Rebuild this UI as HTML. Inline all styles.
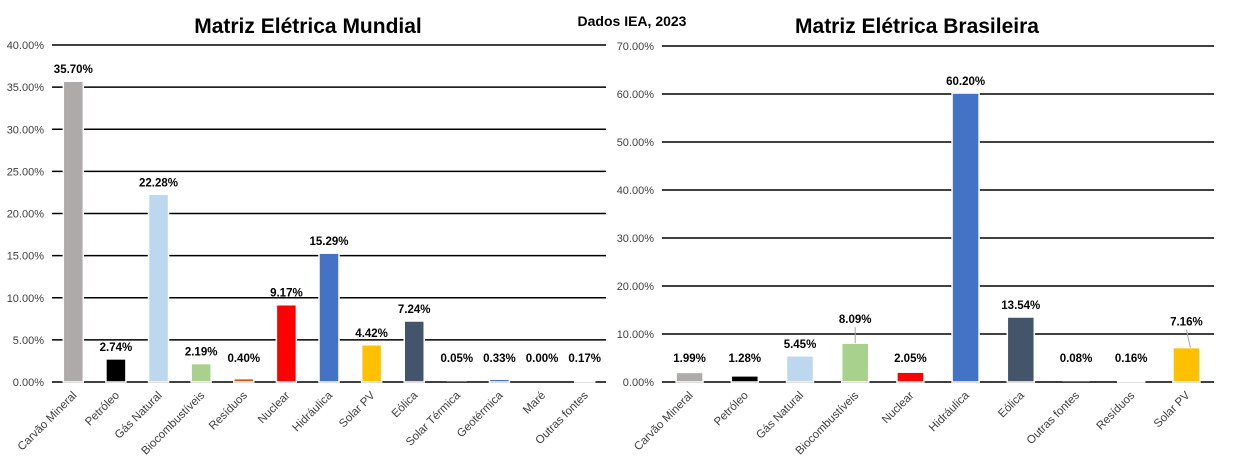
<!DOCTYPE html>
<html><head><meta charset="utf-8"><style>
body{margin:0;background:#fff;}
svg{display:block;font-family:"Liberation Sans",Arial,sans-serif;}
</style></head><body>
<svg id="s" width="1238" height="463">
<text x="308" y="33" text-anchor="middle" font-size="21" font-weight="bold">Matriz Elétrica Mundial</text>
<text x="632" y="26" text-anchor="middle" font-size="14" font-weight="bold">Dados IEA, 2023</text>
<text x="917" y="33" text-anchor="middle" font-size="21" font-weight="bold">Matriz Elétrica Brasileira</text>
</svg>
<script>
const worldCats=["Carvão Mineral","Petróleo","Gás Natural","Biocombustíveis","Resíduos","Nuclear","Hidráulica","Solar PV","Eólica","Solar Térmica","Geotérmica","Maré","Outras fontes"];
const worldVals=[35.70,2.74,22.28,2.19,0.40,9.17,15.29,4.42,7.24,0.05,0.33,0.00,0.17];
const worldColors=["#aeaaaa","#000000","#bdd7ee","#a9d18e","#c55a11","#ff0000","#4472c4","#ffc000","#44546a","#7f7f7f","#4472c4","#7f7f7f","#7f7f7f"];
const worldTicks=[0,5,10,15,20,25,30,35,40];
const brCats=["Carvão Mineral","Petróleo","Gás Natural","Biocombustíveis","Nuclear","Hidráulica","Eólica","Outras fontes","Resíduos","Solar PV"];
const brVals=[1.99,1.28,5.45,8.09,2.05,60.20,13.54,0.08,0.16,7.16];
const brColors=["#aeaaaa","#000000","#bdd7ee","#a9d18e","#ff0000","#4472c4","#44546a","#7f7f7f","#7f7f7f","#ffc000"];
const brTicks=[0,10,20,30,40,50,60,70];
const NS="http://www.w3.org/2000/svg";
const svg=document.getElementById('s');
function el(tag,attrs,parent,txt){const e=document.createElementNS(NS,tag);for(const k in attrs)e.setAttribute(k,attrs[k]);if(txt!==undefined)e.textContent=txt;(parent||svg).appendChild(e);return e;}
function chart(cfg){
  const g=el('g',{});
  
  
  const y=v=>cfg.y0-(v/cfg.max)*(cfg.y0-cfg.y1);
  const step=(cfg.x1-cfg.x0)/cfg.cats.length;
  const x=i=>cfg.x0+step*(i+0.5);
  cfg.ticks.forEach(t=>{
    const l=el('line',{x1:cfg.x0,x2:cfg.x1,y1:y(t),y2:y(t),stroke:'#000','stroke-width':1.5},g);
    
    
    const tx=el('text',{x:cfg.x0-8,y:y(t)+4,'text-anchor':'end','font-size':11,fill:'#404040'},g,t.toFixed(2)+'%');
    
    
  });
  cfg.cats.forEach((c,i)=>{
    const v=cfg.vals[i];
    const h=cfg.y0-y(v);
    const b=el('rect',{x:x(i)-cfg.bw/2,y:y(v),width:cfg.bw,height:Math.max(h,0),fill:cfg.colors[i],stroke:'#fff','stroke-width':h>0.5?1.5:0},g);
    
    
    let ly=y(v)-8;
    if(ly>cfg.y0-20)ly=cfg.y0-20;
    const lead=cfg.leaders&&cfg.leaders[i];
    if(lead){ly-=lead;
      const ll=el('line',{x1:x(i),y1:ly+4,x2:x(i)+(cfg.leadDx?cfg.leadDx[i]||0:0),y2:y(v),stroke:'#a6a6a6','stroke-width':1},g);
      
      
    }
    const t=el('text',{x:x(i),y:ly,'text-anchor':'middle','font-size':11.5,'font-weight':'bold'},g,v.toFixed(2)+'%');
    
    
    const cx=x(i)+4,cy=cfg.y0+14;
    const ct=el('text',{x:cx,y:cy,'text-anchor':'end','font-size':11.5,fill:'#404040',transform:`rotate(-45 ${cx} ${cy})`},g,c);
    
    
  });
}
chart({name:'world-chart',cats:worldCats,vals:worldVals,colors:worldColors,ticks:worldTicks,max:40,x0:52,x1:606,y0:382,y1:45,bw:20});
chart({name:'brazil-chart',cats:brCats,vals:brVals,colors:brColors,ticks:brTicks,max:70,x0:662,x1:1214,y0:382,y1:46,bw:27,leaders:{3:12,9:14},leadDx:{9:4}});
</script>
</body></html>
